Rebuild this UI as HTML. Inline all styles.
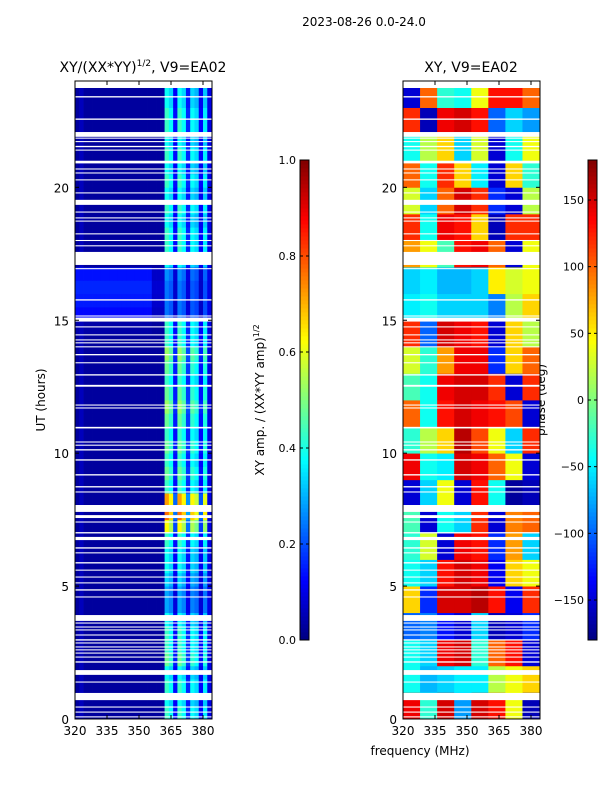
<!DOCTYPE html>
<html><head><meta charset="utf-8"><style>
body{margin:0;background:#fff;}
svg text{font-family:"DejaVu Sans","Liberation Sans",sans-serif;}
</style></head><body>
<svg id="fig" width="600" height="800" viewBox="0 0 600 800" xmlns="http://www.w3.org/2000/svg">
<text x="364" y="26" font-size="12" text-anchor="middle">2023-08-26 0.0-24.0</text>
<text x="143" y="72" font-size="14" text-anchor="middle">XY/(XX*YY)<tspan font-size="9" dy="-6">1/2</tspan><tspan dy="6">, V9=EA02</tspan></text>
<text x="471" y="72" font-size="14" text-anchor="middle">XY, V9=EA02</text>
<text transform="translate(45,400) rotate(-90)" font-size="12" text-anchor="middle">UT (hours)</text>
<text x="420" y="755" font-size="12" text-anchor="middle">frequency (MHz)</text>
<text transform="translate(264,400) rotate(-90)" font-size="12" text-anchor="middle">XY amp. / (XX*YY amp)<tspan font-size="8" dy="-5">1/2</tspan></text>
<text transform="translate(545,400) rotate(-90)" font-size="12" text-anchor="middle">phase (deg)</text>
<g id="left"></g>
<g id="right"></g>
<g id="cb1"></g>
<g id="cb2"></g>
<g id="axes"></g>
</svg>
<script>
const xTicks=[320,335,350,365,380];
const yTicks=[0,5,10,15,20];
const ampTicks=[0.0,0.2,0.4,0.6,0.8,1.0];
const phaseTicks=[-150,-100,-50,0,50,100,150];
// left: column stripe profile (2 MHz bins, 320-384)
const ampColProfile=[0.03,0.06,0.03,0.03,0.03,0.03,0.03,0.03,0.03,0.03,0.03,0.03,0.03,0.03,0.03,0.03,0.03,0.03,0.03,0.03,0.03,0.48,0.42,0.15,0.48,0.42,0.18,0.42,0.38,0.14,0.4,0.1];
// left: per half-hour background and stripe amplitude
const ampRowBg=[0.03,0.03,0.03,0.03,0.03,0.03,0.03,0.03,0.03,0.03,0.03,0.03,0.03,0.03,0.03,0.03,0.03,0.03,0.03,0.03,0.03,0.03,0.03,0.03,0.03,0.03,0.03,0.03,0.03,0.04,0.13,0.15,0.16,0.14,0.03,0.03,0.03,0.03,0.03,0.03,0.03,0.03,0.03,0.03,0.03,0.03,0.03,0.03];
const ampRowScale=[0.9,0.8,0.9,0.8,1.0,0.9,0.9,0.8,0.6,0.6,0.7,0.8,0.8,0.9,1.3,1.6,1.5,0.9,1.0,0.9,1.0,0.9,1.0,1.1,1.0,0.9,1.0,1.1,0.9,0.9,0.5,0.5,0.5,0.55,0.8,0.9,0.9,0.8,0.9,0.8,0.9,0.8,0.9,0.8,0.9,0.9,0.8,0.8];
// right: phase (deg), 24 hour rows (0h first) x 8 cols (8 MHz)
const phaseGrid=[
[140,-30,150,-80,150,130,40,-160],
[-40,-70,-60,-50,-50,20,40,60],
[-40,-60,140,150,-30,100,130,-150],
[-100,-90,-130,-150,-60,-160,-150,-120],
[60,-120,150,150,160,130,-140,120],
[-40,-60,130,150,140,-140,60,40],
[-30,30,-150,140,130,-120,80,-60],
[-20,-150,-40,-60,120,-150,90,100],
[-150,-60,40,-150,130,-40,-170,-160],
[140,-40,-50,150,140,100,40,-150],
[-30,20,60,160,110,40,-60,120],
[100,-40,130,150,140,130,110,-150],
[-20,-40,140,150,150,120,-150,120],
[30,-30,80,140,140,-120,60,100],
[120,-100,150,140,130,-150,60,20],
[-50,-40,-60,-60,-60,-90,20,60],
[-60,-50,-70,-70,-60,50,30,40],
[80,40,-20,130,140,100,-150,40],
[120,-40,140,130,60,-160,120,120],
[30,-60,100,150,120,-120,-150,20],
[100,-40,120,60,-50,-150,60,-30],
[-40,20,60,-60,30,-150,-40,40],
[120,-160,140,150,130,-100,-60,-80],
[-150,100,-30,-40,40,130,130,100]];
// flagged (white) time ranges [start,end] hours
const gapStart=[23.74,23.38,22.54,21.9,21.83,21.7,21.51,21.38,20.9,20.67,20.52,20.26,19.77,19.34,19.05,18.83,18.71,18.23,17.98,17.78,17.08,16.92,15.74,15.14,14.95,14.73,14.43,14.24,14.13,13.98,13.68,13.38,12.92,12.5,11.79,11.68,10.93,10.4,10.28,10.1,9.72,9.16,8.71,8.52,7.79,7.56,7.39,6.98,6.73,6.41,6.23,5.85,5.58,5.32,5.1,4.83,4.57,3.69,3.59,3.44,3.33,3.14,2.95,2.84,2.69,2.58,2.46,2.31,2.12,1.66,1.37,0.71,0.43,0.24,0.06];
const gapLen=[0.26,0.05,0.05,0.18,0.04,0.04,0.05,0.04,0.1,0.04,0.04,0.04,0.04,0.19,0.04,0.04,0.04,0.04,0.04,0.04,0.49,0.04,0.05,0.04,0.15,0.04,0.04,0.04,0.04,0.04,0.05,0.04,0.05,0.07,0.04,0.04,0.06,0.04,0.04,0.05,0.05,0.05,0.05,0.04,0.26,0.11,0.04,0.05,0.12,0.05,0.04,0.05,0.04,0.04,0.04,0.05,0.04,0.22,0.04,0.04,0.04,0.04,0.05,0.04,0.04,0.04,0.04,0.04,0.05,0.18,0.04,0.27,0.04,0.04,0.04];

const NS='http://www.w3.org/2000/svg';
function mk(tag,at,parent){const e=document.createElementNS(NS,tag);for(const k in at)e.setAttribute(k,at[k]);parent.appendChild(e);return e;}
function jet(v){v=Math.max(0,Math.min(1,v));
 const r=Math.max(0,Math.min(1,Math.min(4*v-1.5,-4*v+4.5)));
 const g=Math.max(0,Math.min(1,Math.min(4*v-0.5,-4*v+3.5)));
 const b=Math.max(0,Math.min(1,Math.min(4*v+0.5,-4*v+2.5)));
 return 'rgb('+Math.round(r*255)+','+Math.round(g*255)+','+Math.round(b*255)+')';}
const T=81,B=719;
function yS(h){return B-(h/24)*(B-T);}
function xS(x0,f){return x0+(f-320)*128/60;}
const panels=[75,403];const W=137;

// left heatmap
const L=document.getElementById('left');
const dataTop=23.74;
for(let r=0;r<ampRowBg.length;r++){
 const h0=r*0.5,h1=Math.min(h0+0.5,dataTop);if(h1<=h0)continue;
 for(let c=0;c<ampColProfile.length;c++){
  const p=ampColProfile[c];
  const v=p>0.12?p*ampRowScale[r]:Math.max(p,ampRowBg[r]*(c<18?1:0.5));
  const x=xS(75,320+2*c),x2=Math.min(xS(75,322+2*c),75+W);
  const el=mk('rect',{x:x,y:yS(h1),width:x2-x+0.4,height:yS(h0)-yS(h1)+0.4,fill:jet(v)},L);
  
  
 }
}
// right heatmap
const R=document.getElementById('right');
for(let r=0;r<phaseGrid.length;r++){
 const h0=r,h1=Math.min(r+1,dataTop);
 for(let c=0;c<phaseGrid[r].length;c++){
  const x=xS(403,320+8*c),x2=Math.min(xS(403,328+8*c),403+W);
  const el=mk('rect',{x:x,y:yS(h1),width:x2-x+0.4,height:yS(h0)-yS(h1)+0.4,fill:jet((phaseGrid[r][c]+180)/360)},R);
  
  
 }
}
// gaps
[L,R].forEach((g,i)=>{
 const x0=panels[i];
 mk('rect',{x:x0,y:T,width:W,height:yS(23.74)-T,fill:'#fff'},g);
 for(let k=0;k<gapStart.length;k++){
  const el=mk('rect',{x:x0,y:yS(gapStart[k]+gapLen[k]),width:W,height:yS(gapStart[k])-yS(gapStart[k]+gapLen[k]),fill:'#fff'},g);
  
  
 }
});
// colorbars
function colorbar(g,x,vals,lo,hi,fmt){
 for(let i=0;i<120;i++){mk('rect',{x:x,y:640-(i+1)*4,width:9,height:4.4,fill:jet((i+0.5)/120)},g);}
 mk('rect',{x:x,y:160,width:9,height:480,fill:'none',stroke:'#000','stroke-width':1},g);
 vals.forEach(v=>{const y=640-(v-lo)/(hi-lo)*480;
  mk('line',{x1:x,x2:x+3,y1:y,y2:y,stroke:'#000'},g);mk('line',{x1:x+6,x2:x+9,y1:y,y2:y,stroke:'#000'},g);
  const t=mk('text',{x:x-4,y:y+4,'font-size':11,'text-anchor':'end'},g);t.textContent=fmt(v);
  
  });
}
colorbar(document.getElementById('cb1'),300,ampTicks,0,1,v=>v.toFixed(1));
colorbar(document.getElementById('cb2'),588,phaseTicks,-180,180,v=>v<0?'\u2212'+(-v):''+v);
// axes
const A=document.getElementById('axes');
panels.forEach(x0=>{
 mk('rect',{x:x0,y:T,width:W,height:B-T,fill:'none',stroke:'#000','stroke-width':1},A);
 yTicks.forEach(h=>{const y=yS(h);
  mk('line',{x1:x0,x2:x0+4,y1:y,y2:y,stroke:'#000'},A);mk('line',{x1:x0+W-4,x2:x0+W,y1:y,y2:y,stroke:'#000'},A);
  const t=mk('text',{x:x0-6,y:y+5,'font-size':12,'text-anchor':'end'},A);t.textContent=h;
  
  });
 xTicks.forEach(f=>{const x=xS(x0,f);
  mk('line',{x1:x,x2:x,y1:B,y2:B-4,stroke:'#000'},A);mk('line',{x1:x,x2:x,y1:T,y2:T+4,stroke:'#000'},A);
  const t=mk('text',{x:x,y:B+16,'font-size':12,'text-anchor':'middle'},A);t.textContent=f;
  
  });
});
</script>
</body></html>
